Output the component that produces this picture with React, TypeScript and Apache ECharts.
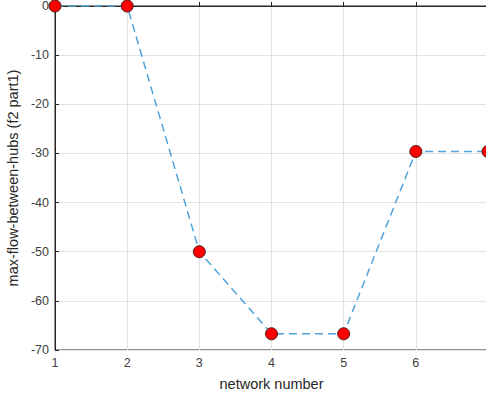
import React, { useEffect, useRef } from "react";
import * as echarts from "echarts";

const networkNumbers = [1, 2, 3, 4, 5, 6, 7];
const maxFlowValues = [0, 0, -50, -66.7, -66.7, -29.6, -29.6];
const xTicks = [1, 2, 3, 4, 5, 6];
const yMin = -70;
const yMax = 0;

export default function App() {
  const ref = useRef<HTMLDivElement>(null);
  useEffect(() => {
    document.body.style.margin = "0";
    document.body.style.overflow = "hidden";
    const chart = echarts.init(ref.current!, null, { renderer: "svg" });
    const font = "Liberation Sans, Arial, sans-serif";
    chart.setOption({
      animation: false,
      backgroundColor: "#ffffff",
      grid: {
        left: 55,
        right: -2,
        top: 6,
        bottom: 47,
        outerBoundsMode: "none",
        containLabel: false,
        show: true,
        borderColor: "#262626",
        borderWidth: 1,
        backgroundColor: "transparent",
      },
      xAxis: {
        type: "value",
        min: 1,
        max: 7,
        interval: 1,
        name: "network number",
        nameLocation: "middle",
        nameGap: 26,
        nameTextStyle: { color: "#262626", fontSize: 14.5, fontFamily: font },
        axisLine: { show: true, lineStyle: { color: "#262626" } },
        axisTick: { show: true, inside: true, length: 4, lineStyle: { color: "#262626" } },
        axisLabel: {
          color: "#404040",
          fontSize: 12.5,
          fontFamily: font,
          margin: 6,
          formatter: (v: number) => (xTicks.includes(v) ? String(v) : ""),
        },
        splitLine: { show: true, lineStyle: { color: "#e3e3e3", width: 1 } },
      },
      yAxis: {
        type: "value",
        min: yMin,
        max: yMax,
        interval: 10,
        name: "max-flow-between-hubs (f2 part1)",
        nameLocation: "middle",
        nameGap: 28,
        nameRotate: 90,
        nameTextStyle: { color: "#262626", fontSize: 14.5, fontFamily: font },
        axisLine: { show: true, lineStyle: { color: "#262626" } },
        axisTick: { show: true, inside: true, length: 4, lineStyle: { color: "#262626" } },
        axisLabel: { color: "#404040", fontSize: 12.5, fontFamily: font, margin: 6 },
        splitLine: { show: true, lineStyle: { color: "#e3e3e3", width: 1 } },
      },
      series: [
        {
          type: "line",
          data: networkNumbers.map((n, i) => [n, maxFlowValues[i]]),
          symbol: "circle",
          symbolSize: 12,
          clip: false,
          lineStyle: { color: "#4fa3dc", width: 1.5, type: [8, 5] },
          itemStyle: { color: "#ff0000", borderColor: "#4a1a1a", borderWidth: 1 },
        },
      ],
    });
    return () => chart.dispose();
  }, []);
  return <div ref={ref} style={{ width: 486, height: 397 }} />;
}
